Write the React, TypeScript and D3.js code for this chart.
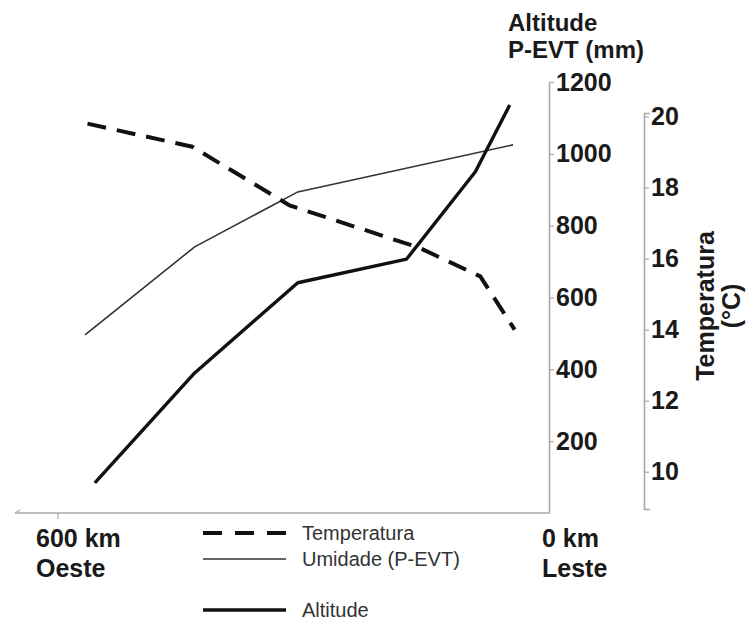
import React, { useEffect, useRef } from 'react'
import * as d3 from 'd3'

// distance from the east end (km)
const altitudeKm = [555, 433, 307, 174, 90, 48]
const altitudeValues = [84, 390, 641, 707, 950, 1136]

const umidadeKm = [567, 433, 307, 44]
const umidadeValues = [496, 741, 894, 1025]

const tempKm = [564, 436, 317, 158, 84, 42]
const tempValues = [19.8, 19.15, 17.5, 16.3, 15.5, 14.0]

const leftTicks = [200, 400, 600, 800, 1000, 1200]
const rightTicks = [10, 12, 14, 16, 18, 20]

const legendItems = [
  { label: 'Temperatura', kind: 'temp' },
  { label: 'Umidade (P-EVT)', kind: 'umid' },
  { label: 'Altitude', kind: 'alt' },
]

const W = 749
const H = 622
const FONT = '"Liberation Sans", Arial, sans-serif'

const Chart: React.FC = () => {
  const svgRef = useRef<SVGSVGElement | null>(null)

  const draw = () => {
    const svg = d3.select(svgRef.current)
    svg.selectAll('*').remove()

    const x = d3.scaleLinear().domain([600, 0]).range([58, 549])
    const yLeft = d3.scaleLinear().domain([0, 1200]).range([513, 82])
    const yTemp = d3.scaleLinear().domain([8.95, 20.1]).range([509, 113])

    const axisColor = '#a8a8a8'

    // x axis (plain line, one tick at 600 km)
    const g = svg.append('g')
    g.append('line')
      .attr('x1', 15).attr('x2', x(0))
      .attr('y1', yLeft(0)).attr('y2', yLeft(0))
      .attr('stroke', axisColor).attr('stroke-width', 1.6)
    g.append('line')
      .attr('x1', 15).attr('x2', 20)
      .attr('y1', yLeft(0)).attr('y2', yLeft(0) - 3)
      .attr('stroke', axisColor).attr('stroke-width', 1.2)
    g.append('line')
      .attr('x1', x(600)).attr('x2', x(600))
      .attr('y1', yLeft(0)).attr('y2', yLeft(0) + 6)
      .attr('stroke', axisColor).attr('stroke-width', 1.2)

    // left axis
    const leftAxis = d3.axisRight(yLeft).tickValues(leftTicks).tickFormat(d3.format('d'))
      .tickSize(5).tickSizeOuter(0).tickPadding(2)
    const gl = svg.append('g').attr('transform', `translate(${x(0)},0)`).call(leftAxis)

    // temperature axis
    const rightAxis = d3.axisRight(yTemp).tickValues(rightTicks).tickFormat(d3.format('d'))
      .tickSize(5).tickSizeOuter(6).tickPadding(2)
    const gr = svg.append('g').attr('transform', 'translate(644,0)').call(rightAxis)

    for (const ax of [gl, gr]) {
      ax.select('.domain').attr('stroke', axisColor).attr('stroke-width', 1.6)
      ax.selectAll('.tick line').attr('stroke', axisColor).attr('stroke-width', 1.2)
      ax.selectAll('.tick text')
        .attr('fill', '#1a1a1a')
        .attr('font-family', FONT)
        .attr('font-weight', 'bold')
        .attr('font-size', 25)
    }

    // lines
    const lineL = d3.line<[number, number]>().x((d) => x(d[0])).y((d) => yLeft(d[1]))
    const lineT = d3.line<[number, number]>().x((d) => x(d[0])).y((d) => yTemp(d[1]))

    svg.append('path')
      .datum(umidadeKm.map((k, i) => [k, umidadeValues[i]] as [number, number]))
      .attr('d', lineL)
      .attr('fill', 'none').attr('stroke', '#333').attr('stroke-width', 1.6)

    svg.append('path')
      .datum(altitudeKm.map((k, i) => [k, altitudeValues[i]] as [number, number]))
      .attr('d', lineL)
      .attr('fill', 'none').attr('stroke', '#111').attr('stroke-width', 3.4)
      .attr('stroke-linejoin', 'round')

    svg.append('path')
      .datum(tempKm.map((k, i) => [k, tempValues[i]] as [number, number]))
      .attr('d', lineT)
      .attr('fill', 'none').attr('stroke', '#111').attr('stroke-width', 4)
      .attr('stroke-dasharray', '19,11')

    // titles
    svg.append('text')
      .attr('x', 508).attr('y', 31)
      .attr('font-family', FONT).attr('font-weight', 'bold').attr('font-size', 24).attr('fill', '#1a1a1a')
      .text('Altitude')
    svg.append('text')
      .attr('x', 508).attr('y', 58)
      .attr('font-family', FONT).attr('font-weight', 'bold').attr('font-size', 24).attr('fill', '#1a1a1a')
      .text('P-EVT (mm)')

    const tt = svg.append('text')
      .attr('transform', 'translate(0,306) rotate(-90)')
      .attr('text-anchor', 'middle')
      .attr('font-family', FONT).attr('font-weight', 'bold').attr('font-size', 25).attr('fill', '#1a1a1a')
    tt.append('tspan').attr('x', 0).attr('y', 714).text('Temperatura')
    tt.append('tspan').attr('x', 0).attr('y', 740).text('(°C)')

    const xl = [
      { t: '600 km', x: 36, y: 547 },
      { t: 'Oeste', x: 36, y: 577 },
      { t: '0 km', x: 542, y: 547 },
      { t: 'Leste', x: 542, y: 577 },
    ]
    svg.selectAll('.xlab').data(xl).enter().append('text')
      .attr('x', (d) => d.x).attr('y', (d) => d.y)
      .attr('font-family', FONT).attr('font-weight', 'bold').attr('font-size', 25).attr('fill', '#1a1a1a')
      .text((d) => d.t)

    // legend
    const legY = [533, 559, 610]
    const leg = svg.append('g')
    legendItems.forEach((item, i) => {
      const ln = leg.append('line')
        .attr('x1', 203).attr('x2', 286)
        .attr('y1', legY[i]).attr('y2', legY[i])
        .attr('stroke', item.kind === 'umid' ? '#333' : '#111')
        .attr('stroke-width', item.kind === 'umid' ? 1.6 : item.kind === 'alt' ? 3.4 : 4)
      if (item.kind === 'temp') ln.attr('stroke-dasharray', '19,13')
      leg.append('text')
        .attr('x', 302).attr('y', legY[i] + 7)
        .attr('font-family', FONT).attr('font-size', 20).attr('fill', '#333')
        .text(item.label)
    })
  }

  useEffect(() => {
    draw()
  }, [])

  return (
    <div style={{ position: 'absolute', left: 0, top: 0, width: W, height: H, background: '#fff' }}>
      <svg ref={svgRef} width={W} height={H}></svg>
    </div>
  )
}

export default function App() {
  return <Chart />
}
